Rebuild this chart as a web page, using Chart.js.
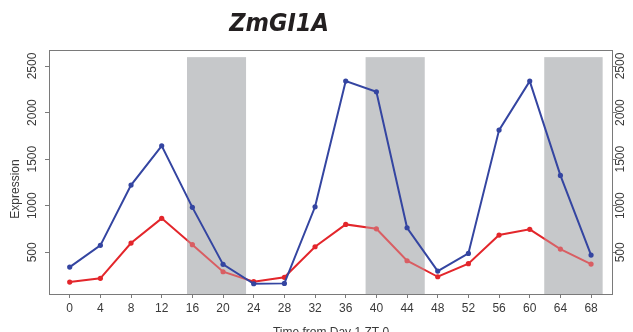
<!DOCTYPE html>
<html>
<head>
<meta charset="utf-8">
<script src="https://cdn.jsdelivr.net/npm/chart.js@4.4.1/dist/chart.umd.min.js"></script>
<style>
  html, body { margin: 0; padding: 0; background: #fff; }
  canvas { display: block; }
</style>
</head>
<body>
<canvas id="chart" width="633" height="332"></canvas>
<script>
// 시간 (ZT) 과 발현량
const hours = [0, 4, 8, 12, 16, 20, 24, 28, 32, 36, 40, 44, 48, 52, 56, 60, 64, 68];
const blueExpr = [342, 575, 1222, 1644, 983, 371, 163, 167, 989, 2338, 2223, 764, 299, 489, 1812, 2338, 1326, 471];
const redExpr = [181, 221, 600, 865, 582, 292, 185, 232, 560, 800, 753, 410, 238, 378, 686, 747, 535, 374];

// 축 눈금
const xTickValues = [0, 4, 8, 12, 16, 20, 24, 28, 32, 36, 40, 44, 48, 52, 56, 60, 64, 68];
const yTickValues = [500, 1000, 1500, 2000, 2500];

// 어두운 구간 (회색 배경)
const darkStart = [15.3, 38.6, 61.9];
const darkEnd = [23.0, 46.3, 69.5];
const darkTop = 2595;

const chartTitle = 'ZmGI1A';
const xTitle = 'Time from Day 1 ZT 0';
const yTitle = 'Expression';

const BLUE = '#3445a1';
const RED = '#e3262b';
const SHADE = '#c7c8ca';
const AXIS = '#7a7a7a';
const TEXT = '#3a3a3a';

const toPoints = (vals) => hours.map((h, i) => ({ x: h, y: vals[i] }));
const setTicks = (vals) => (s) => { s.ticks = vals.map(v => ({ value: v })); };

const shadeRects = (chart, fill) => {
  const { ctx, chartArea, scales: { x, y } } = chart;
  ctx.save();
  ctx.fillStyle = fill;
  darkStart.forEach((s, i) => {
    const x0 = x.getPixelForValue(s);
    const x1 = x.getPixelForValue(darkEnd[i]);
    const top = y.getPixelForValue(darkTop);
    ctx.fillRect(x0, top, x1 - x0, chartArea.bottom - top);
  });
  ctx.restore();
};

// 회색 구간 + 박스 + 제목
const decor = {
  id: 'decor',
  beforeDatasetsDraw(chart) {
    shadeRects(chart, SHADE);
  },
  afterDatasetDraw(chart, args) {
    // 빨간 선 위에만 살짝 회색을 덮음
    if (args.index === 1) shadeRects(chart, 'rgba(199,200,202,0.35)');
  },
  afterDraw(chart) {
    const { ctx, chartArea: a } = chart;
    ctx.save();
    ctx.strokeStyle = AXIS;
    ctx.lineWidth = 1;
    ctx.strokeRect(Math.round(a.left) + 0.5, Math.round(a.top) + 0.5,
      Math.round(a.right - a.left) - 1, Math.round(a.bottom - a.top));

    ctx.fillStyle = '#231f20';
    ctx.font = 'italic bold 25px "Liberation Sans Narrow", "DejaVu Sans Condensed", sans-serif';
    ctx.textAlign = 'center';
    ctx.textBaseline = 'middle';
    ctx.fillText(chartTitle, 279, 24);

    // y축 제목
    ctx.fillStyle = TEXT;
    ctx.font = '12px "Liberation Sans", Arial, sans-serif';
    ctx.translate(16, 189);
    ctx.rotate(-Math.PI / 2);
    ctx.fillText(yTitle, 0, 0);
    ctx.restore();
  }
};

const yTicksCommon = {
  minRotation: 90,
  maxRotation: 90,
  crossAlign: 'center',
  color: TEXT,
  font: { family: 'Liberation Sans', size: 12 },
  callback: v => String(v)
};

new Chart(document.getElementById('chart'), {
  type: 'line',
  data: {
    datasets: [
      {
        label: 'blue',
        data: toPoints(blueExpr),
        borderColor: BLUE,
        backgroundColor: BLUE,
        borderWidth: 2,
        pointRadius: 2.6,
        pointBorderWidth: 0,
        tension: 0,
        order: 0
      },
      {
        label: 'red',
        data: toPoints(redExpr),
        borderColor: RED,
        backgroundColor: RED,
        borderWidth: 2,
        pointRadius: 2.6,
        pointBorderWidth: 0,
        tension: 0,
        order: 1
      }
    ]
  },
  options: {
    responsive: false,
    animation: false,
    layout: { padding: { top: 50, left: 0, right: 0, bottom: 0 } },
    plugins: { legend: { display: false }, tooltip: { enabled: false } },
    scales: {
      x: {
        type: 'linear',
        min: -2.7,
        max: 70.86,
        afterBuildTicks: setTicks(xTickValues),
        afterFit: s => { s.height = 38; },
        border: { display: false },
        grid: { drawOnChartArea: false, color: AXIS, tickLength: 4 },
        ticks: {
          autoSkip: false,
          maxRotation: 0,
          padding: 3,
          color: TEXT,
          font: { family: 'Liberation Sans', size: 12 },
          callback: v => String(v)
        },
        title: {
          display: true,
          text: xTitle,
          color: TEXT,
          padding: { top: 0, bottom: -8 },
          font: { family: 'Liberation Sans', size: 12 }
        }
      },
      y: {
        position: 'left',
        min: 53,
        max: 2672,
        afterBuildTicks: setTicks(yTickValues),
        afterFit: s => { s.width = 49; },
        border: { display: false },
        grid: { drawOnChartArea: false, color: AXIS, tickLength: 4 },
        ticks: { ...yTicksCommon, padding: -1.5 }
      },
      y2: {
        position: 'right',
        min: 53,
        max: 2672,
        afterBuildTicks: setTicks(yTickValues),
        afterFit: s => { s.width = 20; },
        border: { display: false },
        grid: { drawOnChartArea: false, color: AXIS, tickLength: 4 },
        ticks: { ...yTicksCommon, padding: -9.5 }
      }
    }
  },
  plugins: [decor]
});
</script>
</body>
</html>
